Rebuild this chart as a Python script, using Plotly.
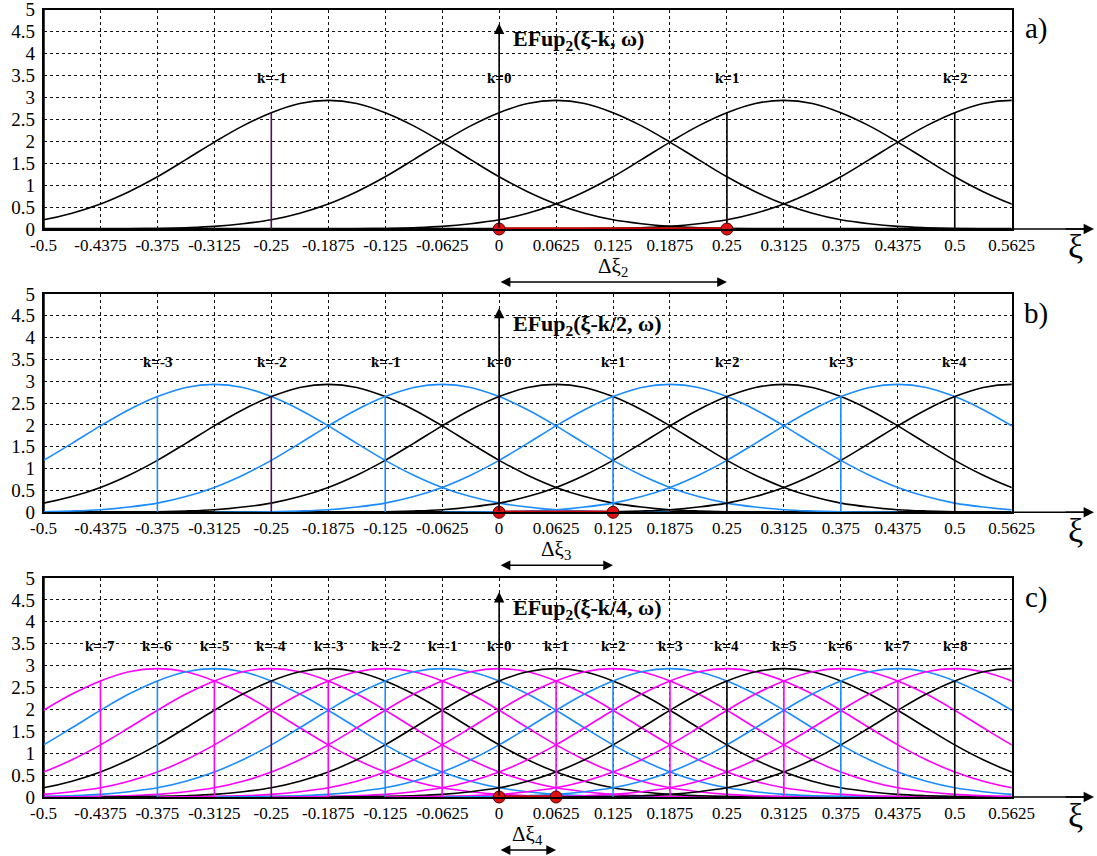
import plotly.graph_objects as go

# ---------------- data ----------------
x_ticks = [-0.5, -0.4375, -0.375, -0.3125, -0.25, -0.1875, -0.125, -0.0625, 0,
           0.0625, 0.125, 0.1875, 0.25, 0.3125, 0.375, 0.4375, 0.5, 0.5625]
x_tick_text = ["-0.5", "-0.4375", "-0.375", "-0.3125", "-0.25", "-0.1875", "-0.125", "-0.0625", "0",
               "0.0625", "0.125", "0.1875", "0.25", "0.3125", "0.375", "0.4375", "0.5", "0.5625"]
y_ticks = [0, 0.5, 1, 1.5, 2, 2.5, 3, 3.5, 4, 4.5, 5]
y_tick_text = ["0", "0.5", "1", "1.5", "2", "2.5", "3", "3.5", "4", "4.5", "5"]

# shape of one EFup2 curve, offsets measured from its node k (peak sits at +0.0625)
profile_offsets = [-0.4375, -0.40625, -0.375, -0.34375, -0.3125, -0.28125, -0.25, -0.21875,
                   -0.1875, -0.15625, -0.125, -0.09375, -0.0625, -0.03125, 0.0, 0.03125,
                   0.0625, 0.09375, 0.125, 0.15625, 0.1875, 0.21875, 0.25, 0.28125,
                   0.3125, 0.34375, 0.375, 0.40625, 0.4375, 0.46875, 0.5, 0.53125, 0.5625]
profile_values = [0.0, 0.004, 0.012, 0.03, 0.06, 0.12, 0.21, 0.36, 0.57, 0.85, 1.19, 1.58,
                  1.98, 2.35, 2.65, 2.86, 2.93, 2.86, 2.65, 2.35, 1.98, 1.58, 1.19, 0.85,
                  0.57, 0.36, 0.21, 0.12, 0.06, 0.03, 0.012, 0.004, 0.0]
node_value = 2.65

k_a = [-1, 0, 1, 2]
nodes_a = [-0.25, 0.0, 0.25, 0.5]
colors_a = ["black", "black", "black", "black"]

k_b = [-3, -2, -1, 0, 1, 2, 3, 4]
nodes_b = [-0.375, -0.25, -0.125, 0.0, 0.125, 0.25, 0.375, 0.5]
colors_b = ["blue", "black", "blue", "black", "blue", "black", "blue", "black"]

k_c = [-7, -6, -5, -4, -3, -2, -1, 0, 1, 2, 3, 4, 5, 6, 7, 8]
nodes_c = [-0.4375, -0.375, -0.3125, -0.25, -0.1875, -0.125, -0.0625, 0.0,
           0.0625, 0.125, 0.1875, 0.25, 0.3125, 0.375, 0.4375, 0.5]
colors_c = ["magenta", "blue", "magenta", "black", "magenta", "blue", "magenta", "black",
            "magenta", "blue", "magenta", "black", "magenta", "blue", "magenta", "black"]

steps = [0.25, 0.125, 0.0625]
titles = ["EFup<sub>2</sub>(ξ-k, ω)", "EFup<sub>2</sub>(ξ-k/2, ω)", "EFup<sub>2</sub>(ξ-k/4, ω)"]
delta_labels = ["Δξ<sub>2</sub>", "Δξ<sub>3</sub>", "Δξ<sub>4</sub>"]
panel_labels = ["a)", "b)", "c)"]

# ---------------- style ----------------
W, H = 1097, 856
col_map = {"black": "#000000", "blue": "#1a8cff", "magenta": "#ff00ff"}
purple = "#5a0a5a"
serif = "Liberation Serif, serif"


def px_x(p):
    return p / W


def px_y(p):
    return 1 - p / H


x_dom = [px_x(43.5), px_x(1011.7)]
panel_px = [(9.5, 229.0), (294.0, 512.3), (578.0, 797.0)]  # top, bottom (page pixels)

fig = go.Figure()
layout = dict(width=W, height=H, margin=dict(l=0, r=0, t=0, b=0, autoexpand=False),
              paper_bgcolor="white", plot_bgcolor="white", showlegend=False,
              font=dict(family=serif, color="black"),
              annotations=[], shapes=[])

panels = [(k_a, nodes_a, colors_a), (k_b, nodes_b, colors_b), (k_c, nodes_c, colors_c)]

for p, (ks, nodes, cols) in enumerate(panels):
    xa = "x" if p == 0 else f"x{p+1}"
    ya = "y" if p == 0 else f"y{p+1}"
    top_px, bot_px = panel_px[p]
    y_dom = [px_y(bot_px), px_y(top_px)]
    axname = "xaxis" if p == 0 else f"xaxis{p+1}"
    ayname = "yaxis" if p == 0 else f"yaxis{p+1}"
    common = dict(showgrid=True, gridcolor="#111", griddash="dot", gridwidth=1,
                  showline=True, linecolor="black", linewidth=1.5, mirror=True,
                  zeroline=False, ticks="", automargin=False, fixedrange=True,
                  ticklabeloverflow="allow")
    layout[axname] = dict(domain=x_dom, range=[-0.5, 0.5625], anchor=ya,
                          tickfont=dict(family=serif, size=17, color="black"),
                          tickmode="array", tickvals=x_ticks, ticktext=x_tick_text, **common)
    layout[ayname] = dict(domain=y_dom, range=[0, 5], anchor=xa, ticklabelstandoff=3,
                          tickfont=dict(family=serif, size=19, color="black"),
                          tickmode="array", tickvals=y_ticks, ticktext=y_tick_text, **common)

    # curves
    for k, nd, c in zip(ks, nodes, cols):
        fig.add_trace(go.Scatter(x=[nd + o for o in profile_offsets], y=profile_values,
                                 mode="lines", line=dict(color=col_map[c], width=1.6, shape="spline"),
                                 xaxis=xa, yaxis=ya, hoverinfo="skip"))
    # node lines
    for k, nd, c in zip(ks, nodes, cols):
        lc = purple if (c == "black" and k <= 0) else col_map[c]
        fig.add_trace(go.Scatter(x=[nd, nd], y=[0, node_value], mode="lines",
                                 line=dict(color=lc, width=1.6), xaxis=xa, yaxis=ya, hoverinfo="skip"))
        layout["annotations"].append(dict(x=nd, y=3.45, xref=xa, yref=ya, text=f"<b>k={k}</b>",
                                          xanchor="center", yanchor="middle",
                                          showarrow=False, font=dict(family=serif, size=15, color="black")))

    # thick left & bottom axis lines (under the traces)
    layout["shapes"].append(dict(type="line", xref=xa, yref=ya, x0=-0.5, x1=-0.5, y0=0, y1=5,
                                 layer="below", line=dict(color="black", width=2.5)))
    layout["shapes"].append(dict(type="line", xref=xa, yref=ya, x0=-0.5, x1=0.5625, y0=0, y1=0,
                                 layer="below", line=dict(color="black", width=2.5)))

    # xi axis arrow extension
    ax_y = px_y(bot_px)
    layout["shapes"].append(dict(type="line", xref="paper", yref="paper",
                                 x0=px_x(1011.7), x1=px_x(1085), y0=ax_y, y1=ax_y,
                                 line=dict(color="black", width=1.6)))
    layout["annotations"].append(dict(x=px_x(1094), y=ax_y, xref="paper", yref="paper",
                                      ax=-30, ay=0, axref="pixel", ayref="pixel",
                                      xanchor="center", yanchor="middle",
                                      showarrow=True, arrowhead=2, arrowsize=1.3, arrowwidth=1.6,
                                      arrowcolor="black", text=""))
    layout["annotations"].append(dict(x=px_x(1075), y=px_y(bot_px + 18), xref="paper", yref="paper",
                                      xanchor="center", yanchor="middle",
                                      text="ξ", showarrow=False,
                                      font=dict(family=serif, size=34, color="black")))
    layout["annotations"].append(dict(x=px_x(1036), y=px_y(top_px + 19), xref="paper", yref="paper",
                                      xanchor="center", yanchor="middle",
                                      text=panel_labels[p], showarrow=False,
                                      font=dict(family=serif, size=29, color="black")))

    # vertical axis arrow at xi=0 and title
    layout["annotations"].append(dict(x=0, y=4.68, xref=xa, yref=ya, ax=0, ay=0, axref=xa, ayref=ya,
                                      xanchor="center", yanchor="middle",
                                      showarrow=True, arrowhead=2, arrowsize=1.3, arrowwidth=1.6,
                                      arrowcolor="black", text=""))
    layout["annotations"].append(dict(x=0.0135, y=4.3, xref=xa, yref=ya, xanchor="left", yanchor="middle",
                                      text="<b>" + titles[p] + "</b>", showarrow=False,
                                      font=dict(family=serif, size=22, color="black")))

    # red step segment
    step = steps[p]
    fig.add_trace(go.Scatter(x=[0, step], y=[0, 0], mode="lines+markers",
                             line=dict(color="#cc0000", width=3.5),
                             marker=dict(size=12, color="#dd1111", line=dict(color="#550000", width=1)),
                             cliponaxis=False, xaxis=xa, yaxis=ya, hoverinfo="skip"))

    # delta label + double arrow
    layout["annotations"].append(dict(x=step / 2, y=px_y(bot_px + 38), xref=xa, yref="paper",
                                      xanchor="center", yanchor="middle",
                                      text=delta_labels[p], showarrow=False,
                                      font=dict(family=serif, size=21, color="black")))
    layout["annotations"].append(dict(x=step, y=px_y(bot_px + 53), xref=xa, yref="paper",
                                      ax=0, ay=0, axref=xa, ayref="pixel",
                                      xanchor="center", yanchor="middle",
                                      showarrow=True, arrowhead=2, startarrowhead=2, arrowside="end+start",
                                      arrowsize=1.3, startarrowsize=1.3, arrowwidth=1.5,
                                      arrowcolor="black", text=""))

fig.update_layout(**layout)
fig.write_html("out.html", config={"displayModeBar": False},
               post_script="document.body.style.margin='0px';")
